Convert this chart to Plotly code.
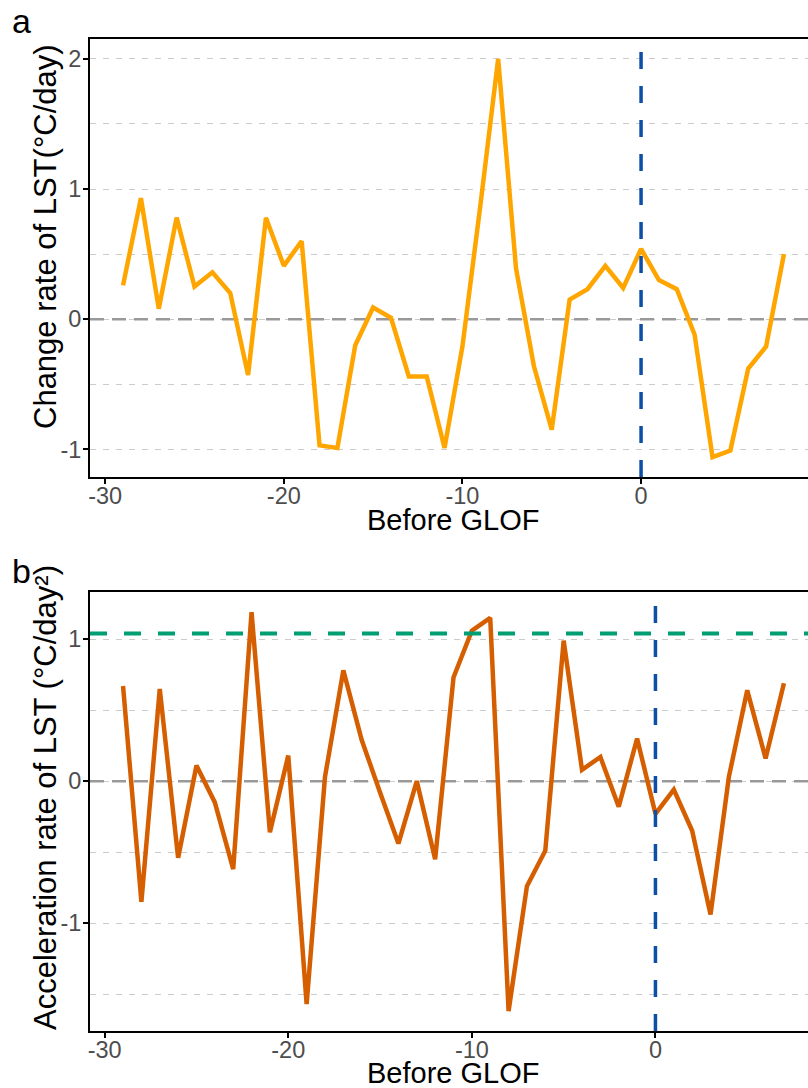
import plotly.graph_objects as go

# ---------------- data ----------------
days_a = list(range(-29, 9))
change_rate = [0.26, 0.93, 0.08, 0.78, 0.25, 0.36, 0.20, -0.43, 0.78, 0.41,
               0.60, -0.97, -0.99, -0.20, 0.09, 0.01, -0.44, -0.44, -0.99, -0.21,
               0.87, 2.00, 0.39, -0.36, -0.85, 0.15, 0.23, 0.41, 0.24, 0.54,
               0.30, 0.23, -0.12, -1.06, -1.01, -0.38, -0.21, 0.50]

days_b = list(range(-29, 8))
accel_rate = [0.67, -0.85, 0.65, -0.54, 0.11, -0.15, -0.62, 1.19, -0.36, 0.18,
              -1.57, 0.03, 0.78, 0.29, -0.08, -0.44, 0.00, -0.55, 0.73, 1.06,
              1.15, -1.62, -0.74, -0.49, 0.99, 0.08, 0.17, -0.18, 0.30, -0.23,
              -0.06, -0.35, -0.94, 0.03, 0.64, 0.16, 0.69]

glof_day = 0
zero_level = 0
accel_threshold = 1.04
x_ticks = [-30, -20, -10, 0]
x_tick_labels = ["-30", "-20", "-10", "0"]
y_ticks_a = [-1, 0, 1, 2]
y_tick_labels_a = ["-1", "0", "1", "2"]
y_ticks_b = [-1, 0, 1]
y_tick_labels_b = ["-1", "0", "1"]

# ---------------- style ----------------
FONT = "Liberation Sans, Arial, sans-serif"
W, H = 808, 1088
ML, MT, MB = 90, 39, 57
PANEL_W = 727          # full panel width (right side is cropped in the picture)
VIS_W = W - ML


def expand(vals, frac=0.05):
    lo, hi = min(vals), max(vals)
    s = hi - lo
    return lo - frac * s, hi + frac * s


def xrange_cropped(days):
    lo, hi = expand(days)
    return [lo, lo + (hi - lo) * VIS_W / PANEL_W]


xr_a = xrange_cropped(days_a)
xr_b = xrange_cropped(days_b)

fig = go.Figure()
# zero reference lines (drawn under the data)
fig.add_trace(go.Scatter(x=xr_a, y=[zero_level, zero_level], mode="lines",
                         line=dict(color="#999999", width=2.5, dash="14px,8px"),
                         xaxis="x", yaxis="y", showlegend=False, hoverinfo="skip"))
fig.add_trace(go.Scatter(x=xr_b, y=[zero_level, zero_level], mode="lines",
                         line=dict(color="#999999", width=2.5, dash="14px,8px"),
                         xaxis="x2", yaxis="y2", showlegend=False, hoverinfo="skip"))
fig.add_trace(go.Scatter(x=days_a, y=change_rate, mode="lines",
                         line=dict(color="#FFA500", width=4.5),
                         xaxis="x", yaxis="y", showlegend=False))
fig.add_trace(go.Scatter(x=days_b, y=accel_rate, mode="lines",
                         line=dict(color="#D55E00", width=4.5),
                         xaxis="x2", yaxis="y2", showlegend=False))

grid = dict(showgrid=True, gridcolor="#CCCCCC", gridwidth=1.2, griddash="6px,7px")
tickfont = dict(family=FONT, size=23.5, color="#4D4D4D")
common_x = dict(showline=True, linecolor="black", linewidth=2, mirror=True,
                ticks="outside", ticklen=5, tickwidth=2, tickcolor="black",
                tickvals=x_ticks, ticktext=x_tick_labels, ticklabelstandoff=-8,
                showgrid=False, zeroline=False, tickfont=tickfont)
common_y = dict(showline=True, linecolor="black", linewidth=2, mirror=False,
                ticks="outside", ticklen=5, tickwidth=2, tickcolor="black",
                zeroline=False, ticklabelstandoff=-3,
                minor=dict(dtick=0.5, tick0=0, ticks="", **grid),
                tickfont=tickfont, **grid)

dom_a = [(1031 - 477) / 992, 1.0]
dom_b = [0.0, (1031 - 592.3) / 992]

fig.update_layout(
    width=W, height=H,
    margin=dict(l=ML, r=0, t=MT, b=MB),
    plot_bgcolor="white", paper_bgcolor="white",
    xaxis=dict(domain=[0, 1], anchor="y", range=xr_a, **common_x),
    yaxis=dict(domain=dom_a, anchor="x", range=list(expand(change_rate)),
               tickvals=y_ticks_a, ticktext=y_tick_labels_a, **common_y),
    xaxis2=dict(domain=[0, 1], anchor="y2", range=xr_b, **common_x),
    yaxis2=dict(domain=dom_b, anchor="x2", range=list(expand(accel_rate)),
                tickvals=y_ticks_b, ticktext=y_tick_labels_b, **common_y),
)

shapes = []
for xr, yr in (("x", "y"), ("x2", "y2")):
    shapes.append(dict(type="line", xref=xr, yref=f"{yr} domain", x0=glof_day, x1=glof_day,
                       y0=0, y1=1, line=dict(color="#0D4EA6", width=3.5, dash="17px,17px"),
                       layer="above"))
shapes.append(dict(type="line", xref="x2 domain", yref="y2", x0=0, x1=1,
                   y0=accel_threshold, y1=accel_threshold,
                   line=dict(color="#009E73", width=4, dash="17px,17px"), layer="above"))
fig.update_layout(shapes=shapes)


def py(pix):
    return (H - MB - pix) / (H - MT - MB)


def px(pix):
    return (pix - ML) / VIS_W


ann = [
    dict(text="a", x=px(10), y=py(21), xanchor="left", yanchor="middle",
         font=dict(size=34, color="black")),
    dict(text="b", x=px(10), y=py(571), xanchor="left", yanchor="middle",
         font=dict(size=34, color="black")),
    dict(text="Change rate of LST(°C/day)", x=px(45), y=py(237), textangle=-90,
         xanchor="center", yanchor="middle", font=dict(size=31, color="black")),
    dict(text="Acceleration rate of LST (°C/day²)", x=px(45), y=py(798),
         textangle=-90, xanchor="center", yanchor="middle",
         font=dict(size=31, color="black")),
    dict(text="Before GLOF", x=px(453), y=py(520), xanchor="center", yanchor="middle",
         font=dict(size=29, color="black")),
    dict(text="Before GLOF", x=px(453), y=py(1073), xanchor="center", yanchor="middle",
         font=dict(size=29, color="black")),
]
for a in ann:
    a.update(xref="paper", yref="paper", showarrow=False)
    a["font"]["family"] = FONT
fig.update_layout(annotations=ann)

fig.write_html("out.html")
